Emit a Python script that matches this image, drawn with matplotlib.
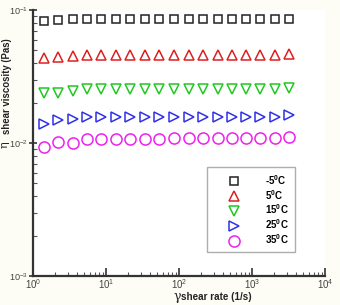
import matplotlib
matplotlib.use("Agg")
import matplotlib.pyplot as plt
from matplotlib.ticker import LogLocator, NullFormatter

plt.rcParams['font.family'] = ['Liberation Sans', 'DejaVu Sans']
plt.rcParams['mathtext.fontset'] = 'custom'
plt.rcParams['mathtext.rm'] = 'Liberation Sans'
plt.rcParams['mathtext.bf'] = 'Liberation Sans:bold'
plt.rcParams['mathtext.it'] = 'Liberation Sans:italic'

shear_rate = [1.40, 2.20, 3.46, 5.44, 8.54, 13.6, 21.3, 33.6, 52.7,
              84.6, 136, 213, 336, 527, 820, 1303, 2046, 3214]

visc_m5 = [0.0830, 0.0845, 0.0852, 0.0852, 0.0852, 0.0852, 0.0852, 0.0852, 0.0852,
           0.0852, 0.0852, 0.0852, 0.0852, 0.0852, 0.0852, 0.0852, 0.0852, 0.0855]
visc_5 = [0.0437, 0.0445, 0.0452, 0.0459, 0.0459, 0.0459, 0.0459, 0.0459, 0.0459,
          0.0459, 0.0459, 0.0459, 0.0459, 0.0459, 0.0459, 0.0459, 0.0459, 0.0467]
visc_15 = [0.0237, 0.0237, 0.0247, 0.0253, 0.0253, 0.0253, 0.0253, 0.0253, 0.0253,
           0.0253, 0.0253, 0.0253, 0.0253, 0.0253, 0.0253, 0.0253, 0.0253, 0.0260]
visc_25 = [0.0139, 0.0149, 0.0151, 0.0156, 0.0156, 0.0156, 0.0156, 0.0156, 0.0156,
           0.0156, 0.0156, 0.0156, 0.0156, 0.0156, 0.0156, 0.0156, 0.0156, 0.0162]
visc_35 = [0.00938, 0.01023, 0.00995, 0.01072, 0.01072, 0.01072, 0.01075, 0.01078, 0.01080,
           0.01084, 0.01084, 0.01084, 0.01084, 0.01084, 0.01084, 0.01084, 0.01084, 0.01115]

labels = [r'-5$^{\mathbf{0}}$C', r'5$^{\mathbf{0}}$C', r'15$^{\mathbf{0}}$C',
          r'25$^{\mathbf{0}}$C', r'35$^{\mathbf{0}}$C']

series = [visc_m5, visc_5, visc_15, visc_25, visc_35]
markers = ['s', '^', 'v', '>', 'o']
sizes = [6.2, 7.5, 7.5, 7.5, 8.0]
colors = ['#222222', '#dd2020', '#20c820', '#3030e8', '#ee20ee']

fig = plt.figure(figsize=(3.4, 3.05), dpi=100, facecolor='#fdfdf6')
ax = fig.add_axes([0.098, 0.095, 0.858, 0.872])
ax.set_facecolor('white')

for y, m, s, c, lab in zip(series, markers, sizes, colors, labels):
    ax.plot(shear_rate, y, linestyle='none', marker=m, markersize=s,
            markerfacecolor='none', markeredgecolor=c, markeredgewidth=1.1,
            label=lab)

ax.set_xscale('log')
ax.set_yscale('log')
ax.set_xlim(1, 1e4)
ax.set_ylim(1e-3, 1e-1)

for side in ['top', 'right']:
    ax.spines[side].set_visible(False)
for side in ['left', 'bottom']:
    ax.spines[side].set_color('#333333')
    ax.spines[side].set_linewidth(1.6)

ax.xaxis.set_major_locator(LogLocator(base=10, numticks=10))
ax.yaxis.set_major_locator(LogLocator(base=10, numticks=10))
ax.xaxis.set_minor_locator(LogLocator(base=10, subs=range(2, 10), numticks=20))
ax.yaxis.set_minor_locator(LogLocator(base=10, subs=range(2, 10), numticks=20))
ax.xaxis.set_minor_formatter(NullFormatter())
ax.yaxis.set_minor_formatter(NullFormatter())

ax.tick_params(axis='x', which='major', direction='in', length=6, width=1.2,
               colors='#333333', labelsize=7, labelcolor='#444444', pad=1)
ax.tick_params(axis='x', which='minor', direction='in', length=3, width=0.8,
               colors='#555555')
ax.tick_params(axis='y', which='major', direction='inout', length=6, width=1.2,
               colors='#333333', labelsize=6.6, labelcolor='#444444', pad=1)
ax.tick_params(axis='y', which='minor', direction='in', length=3, width=0.8,
               colors='#555555')

leg = ax.legend(loc='upper left', bbox_to_anchor=(0.595, 0.409), frameon=True,
                fancybox=False, edgecolor='#999999', prop={'weight': 'bold', 'size': 7},
                borderpad=0.6, handlelength=4.4, handletextpad=1.0, labelspacing=0.1,
                borderaxespad=0)
leg.get_frame().set_linewidth(1.0)

# axis labels
fig.text(0.014, 0.527, '\u03b7', rotation=90, fontsize=8, family='DejaVu Serif',
         ha='center', va='center', color='#222222')
fig.text(0.020, 0.718, 'shear viscosity (Pas)', rotation=90, fontsize=6.9,
         weight='bold', ha='center', va='center', color='#222222')
fig.text(0.510, 0.027, '\u03b3', fontsize=9, family='DejaVu Serif',
         ha='left', va='center', color='#222222')
fig.text(0.531, 0.027, 'shear rate (1/s)', fontsize=7.1, weight='bold',
         ha='left', va='center', color='#222222')

fig.savefig('out.png', dpi=100, facecolor=fig.get_facecolor())
